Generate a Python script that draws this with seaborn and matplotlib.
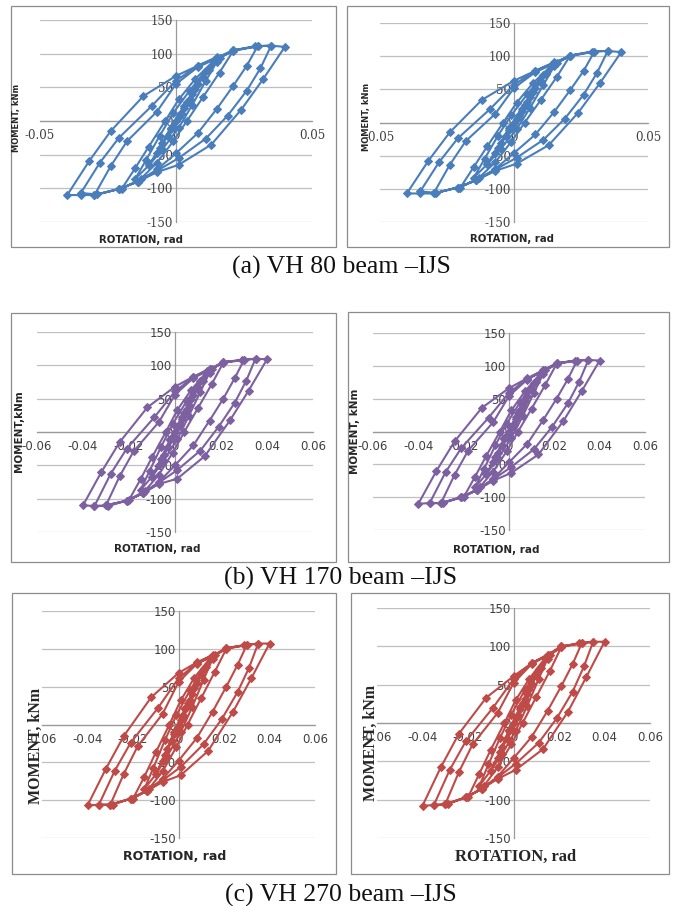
import matplotlib
matplotlib.use("Agg")
import matplotlib.pyplot as plt
from matplotlib import font_manager
from matplotlib.patches import Rectangle
import pandas as pd
import seaborn as sns

# rotation history (rad), same loading protocol for every specimen
ROTATION = [
    0.000, 0.003, 0.005, 0.002, -0.001, -0.003, -0.005, -0.002, 0.001,
    0.004, 0.007, 0.010, 0.006, 0.002, -0.003, -0.007, -0.010, -0.006, -0.002, 0.003,
    0.008, 0.012, 0.015, 0.011, 0.006, 0.001, -0.005, -0.010, -0.015, -0.011, -0.006, -0.001, 0.005,
    0.011, 0.016, 0.021, 0.016, 0.010, 0.004, -0.001, -0.007, -0.013, -0.020, -0.015, -0.010, -0.004, 0.001, 0.007,
    0.014, 0.021, 0.030, 0.026, 0.021, 0.015, 0.008, 0.000, -0.007, -0.014, -0.021, -0.030, -0.024, -0.018, -0.007, 0.000, 0.008,
    0.015, 0.021, 0.029, 0.035, 0.031, 0.026, 0.019, 0.011, 0.001, -0.007, -0.014, -0.021, -0.029, -0.035, -0.028, -0.021, -0.009, 0.000, 0.008,
    0.015, 0.021, 0.030, 0.035, 0.040, 0.032, 0.024, 0.013, 0.001, -0.007, -0.014, -0.021, -0.030, -0.035, -0.040, -0.032, -0.024, -0.012, 0.000, 0.008, 0.015,
]

# moment (kNm) for each panel
MOMENT_A_LEFT = [
    0, 20, 33, 12, -8, -22, -33, -12, 6,
    28, 48, 66, 40, 10, -22, -48, -66, -40, -10, 22,
    55, 76, 88, 60, 24, -10, -42, -66, -86, -58, -22, 12, 45,
    75, 94, 104, 72, 36, 0, -30, -62, -86, -101, -70, -38, 0, 32, 62,
    90, 104, 111, 82, 52, 18, -18, -48, -72, -90, -101, -110, -67, -30, 14, 55, 80,
    93, 105, 111, 112, 78, 45, 8, -26, -55, -74, -90, -101, -109, -107, -62, -25, 22, 60, 82,
    94, 105, 111, 112, 110, 62, 17, -35, -65, -76, -90, -101, -110, -110, -110, -60, -15, 37, 67, 82, 95,
]
MOMENT_A_RIGHT = [
    0, 18, 31, 11, -8, -20, -31, -11, 6,
    26, 46, 63, 38, 9, -21, -46, -63, -38, -9, 21,
    52, 73, 85, 57, 22, -10, -40, -63, -83, -55, -20, 11, 43,
    72, 90, 101, 69, 34, 0, -29, -60, -83, -98, -67, -36, 0, 30, 59,
    86, 100, 107, 78, 49, 16, -18, -46, -70, -87, -98, -107, -64, -28, 13, 52, 76,
    89, 101, 107, 108, 75, 42, 6, -26, -53, -71, -87, -98, -106, -104, -60, -24, 20, 57, 78,
    90, 101, 107, 108, 106, 59, 15, -34, -62, -73, -87, -98, -107, -107, -107, -58, -15, 34, 63, 78, 91,
]
MOMENT_B_LEFT = [
    0, 20, 34, 12, -8, -22, -34, -12, 6,
    29, 49, 67, 40, 10, -23, -49, -67, -40, -10, 23,
    56, 77, 89, 60, 24, -11, -43, -67, -87, -58, -22, 12, 46,
    76, 95, 104, 72, 36, 0, -31, -64, -88, -102, -71, -38, 0, 33, 63,
    91, 104, 108, 81, 50, 17, -20, -50, -75, -92, -103, -110, -66, -29, 15, 56, 81,
    93, 105, 108, 110, 77, 44, 8, -28, -57, -76, -92, -103, -111, -111, -63, -25, 22, 61, 82,
    94, 105, 108, 110, 109, 62, 18, -36, -70, -78, -92, -103, -110, -111, -110, -60, -15, 37, 68, 83, 95,
]
MOMENT_B_RIGHT = [
    0, 19, 33, 12, -8, -21, -33, -12, 6,
    28, 47, 65, 39, 10, -22, -47, -65, -39, -10, 22,
    54, 75, 87, 59, 23, -10, -41, -65, -85, -57, -21, 12, 45,
    74, 93, 103, 71, 35, 0, -30, -61, -85, -100, -69, -37, 0, 32, 61,
    89, 103, 108, 80, 50, 17, -19, -47, -72, -89, -100, -109, -66, -29, 14, 54, 79,
    92, 104, 108, 109, 76, 43, 7, -27, -54, -73, -89, -100, -109, -109, -62, -25, 21, 59, 80,
    93, 104, 108, 109, 108, 61, 16, -35, -63, -75, -89, -100, -109, -109, -110, -60, -15, 36, 66, 81, 93,
]
MOMENT_C_LEFT = [
    0, 20, 33, 12, -8, -22, -33, -12, 6,
    28, 48, 66, 40, 10, -22, -48, -66, -40, -10, 22,
    55, 76, 87, 59, 23, -10, -42, -66, -85, -57, -21, 12, 45,
    74, 92, 100, 70, 35, 0, -30, -62, -85, -98, -69, -37, 0, 32, 62,
    88, 100, 105, 79, 50, 17, -18, -48, -72, -88, -98, -106, -65, -29, 14, 56, 80,
    90, 101, 105, 107, 75, 43, 7, -26, -56, -74, -88, -98, -106, -106, -61, -24, 22, 61, 81,
    91, 101, 105, 107, 107, 61, 17, -35, -67, -76, -88, -98, -106, -106, -107, -59, -15, 36, 68, 82, 92,
]
MOMENT_C_RIGHT = [
    0, 18, 31, 11, -8, -20, -31, -11, 6,
    26, 45, 62, 38, 9, -21, -45, -62, -38, -9, 21,
    51, 72, 84, 57, 22, -10, -40, -62, -82, -54, -20, 11, 43,
    71, 89, 99, 68, 34, 0, -28, -58, -82, -97, -66, -35, 0, 30, 58,
    85, 99, 104, 77, 48, 16, -18, -46, -70, -86, -97, -106, -64, -28, 13, 52, 77,
    88, 100, 104, 106, 74, 41, 6, -26, -53, -71, -86, -97, -106, -107, -61, -24, 20, 57, 78,
    89, 100, 104, 106, 106, 60, 15, -34, -61, -73, -86, -97, -106, -107, -108, -58, -14, 33, 61, 78, 89,
]

Y_TICKS = [-150, -100, -50, 0, 50, 100, 150]
X_TICKS_A = [-0.05, 0, 0.05]
X_LABELS_A = ["-0.05", "0", "0.05"]
X_TICKS_BC = [-0.06, -0.04, -0.02, 0, 0.02, 0.04, 0.06]
X_LABELS_BC = ["-0.06", "-0.04", "-0.02", "0", "0.02", "0.04", "0.06"]
CAPTIONS = ["(a) VH 80 beam \u2013IJS", "(b) VH 170 beam \u2013IJS", "(c) VH 270 beam \u2013IJS"]

BLUE, PURPLE, RED = "#4A7EBB", "#7D60A0", "#BE4B48"

W, H = 675, 906
sns.set_theme(style="white")
plt.rcParams["font.family"] = ["DejaVu Sans"]
plt.rcParams["axes.unicode_minus"] = False

names = {f.name for f in font_manager.fontManager.ttflist}
narrow = "Liberation Sans Narrow" if "Liberation Sans Narrow" in names else "DejaVu Sans"

fig = plt.figure(figsize=(W / 100, H / 100), dpi=100)


def fig_rect(x0, y0, x1, y1):
    return [x0 / W, 1 - y1 / H, (x1 - x0) / W, (y1 - y0) / H]


panels = [
    dict(m=MOMENT_A_LEFT, c=BLUE, area=(40, 20, 312, 222), box=(11, 6, 336, 247),
         xt=X_TICKS_A, xl=X_LABELS_A, xlim=0.05, tf="DejaVu Serif",
         yl="MOMENT, kNm", ylp=(17, 118), ylf=dict(family=narrow, size=6, weight="bold"),
         xlp=(141, 240), xlf=dict(family="DejaVu Sans", size=7.3, weight="bold")),
    dict(m=MOMENT_A_RIGHT, c=BLUE, area=(380, 23, 648, 222), box=(347, 6, 669, 247),
         xt=X_TICKS_A, xl=X_LABELS_A, xlim=0.05, tf="DejaVu Serif",
         yl="MOMENT, kNm", ylp=(366, 117), ylf=dict(family=narrow, size=6, weight="bold"),
         xlp=(512, 239), xlf=dict(family="DejaVu Sans", size=7.3, weight="bold")),
    dict(m=MOMENT_B_LEFT, c=PURPLE, area=(37, 332, 313, 532), box=(11, 313, 336, 562),
         xt=X_TICKS_BC, xl=X_LABELS_BC, xlim=0.06, tf="DejaVu Sans",
         yl="MOMENT,kNm", ylp=(19, 431), ylf=dict(family=narrow, size=7.5, weight="bold"),
         xlp=(157, 549), xlf=dict(family="DejaVu Sans", size=7.5, weight="bold")),
    dict(m=MOMENT_B_RIGHT, c=PURPLE, area=(373, 333, 645, 530), box=(348, 312, 669, 562),
         xt=X_TICKS_BC, xl=X_LABELS_BC, xlim=0.06, tf="DejaVu Sans",
         yl="MOMENT, kNm", ylp=(355, 431), ylf=dict(family=narrow, size=7.5, weight="bold"),
         xlp=(496, 550), xlf=dict(family="DejaVu Sans", size=7.5, weight="bold")),
    dict(m=MOMENT_C_LEFT, c=RED, area=(42, 611, 315, 838), box=(12, 593, 336, 874),
         xt=X_TICKS_BC, xl=X_LABELS_BC, xlim=0.06, tf="DejaVu Sans",
         yl="MOMENT, kNm", ylp=(36, 746), ylf=dict(family="Liberation Serif", size=11.5, weight="bold"),
         xlp=(175, 857), xlf=dict(family="DejaVu Sans", size=9, weight="bold")),
    dict(m=MOMENT_C_RIGHT, c=RED, area=(377, 608, 650, 838), box=(351, 593, 669, 874),
         xt=X_TICKS_BC, xl=X_LABELS_BC, xlim=0.06, tf="DejaVu Sans",
         yl="MOMENT, kNm", ylp=(371, 743), ylf=dict(family="Liberation Serif", size=11.5, weight="bold"),
         xlp=(516, 857), xlf=dict(family="Liberation Serif", size=12, weight="bold")),
]

for p in panels:
    x0, y0, x1, y1 = p["box"]
    fig.add_artist(Rectangle((x0 / W, 1 - y1 / H), (x1 - x0) / W, (y1 - y0) / H,
                             transform=fig.transFigure, fill=False, ec="#8C8C8C", lw=0.9))

    ax = fig.add_axes(fig_rect(*p["area"]))
    df = pd.DataFrame({"rotation": ROTATION, "moment": p["m"]})
    sns.lineplot(data=df, x="rotation", y="moment", sort=False, estimator=None,
                 color=p["c"], lw=1.5, marker="D", markersize=4,
                 markeredgecolor=p["c"], zorder=3, ax=ax)

    ax.set_xlim(-p["xlim"], p["xlim"])
    ax.set_ylim(-150, 150)
    ax.set_yticks(Y_TICKS)
    ax.set_xticks(p["xt"])
    ax.set_xticklabels(p["xl"])
    ax.set_xlabel("")
    ax.set_ylabel("")
    ax.grid(axis="y", color="#BFBFBF", lw=0.9)
    ax.grid(axis="x", visible=False)
    ax.set_axisbelow(True)
    ax.set_facecolor("none")
    for s in ["top", "right"]:
        ax.spines[s].set_visible(False)
    ax.spines["left"].set_position(("data", 0))
    ax.spines["bottom"].set_position(("data", 0))
    for s in ["left", "bottom"]:
        ax.spines[s].set_color("#9A9A9A")
        ax.spines[s].set_linewidth(0.9)
    ax.tick_params(axis="both", length=0)
    ax.tick_params(axis="y", pad=2)
    ax.tick_params(axis="x", pad=6)
    for lab in ax.get_xticklabels() + ax.get_yticklabels():
        lab.set_fontfamily(p["tf"])
        lab.set_fontsize(8.5)
        lab.set_color("#404040")

    fig.text(p["ylp"][0] / W, 1 - p["ylp"][1] / H, p["yl"], rotation=90,
             ha="center", va="center", color="#262626", **p["ylf"])
    fig.text(p["xlp"][0] / W, 1 - p["xlp"][1] / H, "ROTATION, rad",
             ha="center", va="center", color="#262626", **p["xlf"])

for cap, yc in zip(CAPTIONS, [267, 578, 895]):
    fig.text(341 / W, 1 - yc / H, cap, ha="center", va="center",
             family="Liberation Serif", size=18.5, color="#111111")

fig.savefig("out.png", dpi=100)
